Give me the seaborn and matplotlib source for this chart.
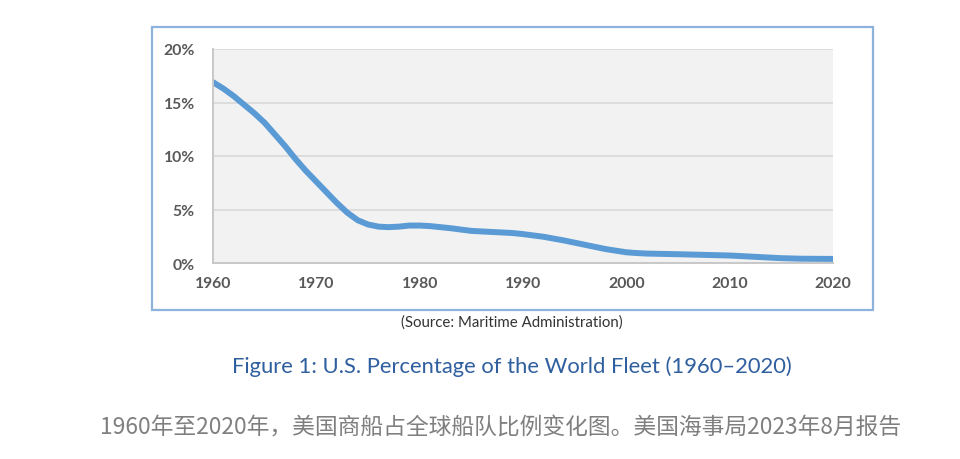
import matplotlib
matplotlib.use("Agg")
import matplotlib.pyplot as plt
import matplotlib.patches as mpatches
import seaborn as sns
import pandas as pd

years = [1960, 1961, 1962, 1963, 1964, 1965, 1966, 1967, 1968, 1969, 1970,
         1971, 1972, 1973, 1974, 1975, 1976, 1977, 1978, 1979, 1980, 1981,
         1983, 1985, 1987, 1989, 1990, 1992, 1994, 1996, 1998, 1999, 2000,
         2001, 2002, 2005, 2010, 2013, 2015, 2017, 2020]
share = [16.9, 16.3, 15.6, 14.8, 14.0, 13.1, 12.0, 10.9, 9.7, 8.6, 7.6,
         6.6, 5.6, 4.7, 4.0, 3.6, 3.4, 3.35, 3.4, 3.5, 3.5, 3.45,
         3.25, 3.0, 2.9, 2.8, 2.7, 2.45, 2.1, 1.7, 1.3, 1.15, 1.0,
         0.93, 0.88, 0.82, 0.7, 0.55, 0.45, 0.4, 0.38]
x_ticks = [1960, 1970, 1980, 1990, 2000, 2010, 2020]
y_ticks = [0, 5, 10, 15, 20]
y_labels = ["0%", "5%", "10%", "15%", "20%"]

source_text = "(Source: Maritime Administration)"
title_text = "Figure 1: U.S. Percentage of the World Fleet (1960\u20132020)"
caption_text = "1960年至2020年，美国商船占全球船队比例变化图。美国海事局2023年8月报告"

sns.set_theme(style="white")
plt.rcParams['font.family'] = ['Lato', 'Noto Sans CJK SC', 'DejaVu Sans']

df = pd.DataFrame({"year": years, "share": share})

fig = plt.figure(figsize=(9.6, 4.6), dpi=100)
fig.patch.set_facecolor("white")

# outer frame
frame = mpatches.Rectangle((152 / 960, 1 - 311 / 460), (873 - 152) / 960, (311 - 28) / 460,
                           transform=fig.transFigure, fill=False,
                           edgecolor="#8db3dc", linewidth=1.6)
fig.patches.append(frame)

ax = fig.add_axes([213 / 960, 1 - 264 / 460, 620 / 960, 214 / 460])
ax.set_facecolor("#f2f2f2")
sns.lineplot(data=df, x="year", y="share", ax=ax, color="#5b9bd5",
             linewidth=4.3, solid_joinstyle="round", solid_capstyle="round")

ax.set_xlim(1960, 2020)
ax.set_ylim(0, 20)
ax.set_xticks(x_ticks)
ax.set_xticklabels([str(t) for t in x_ticks])
ax.set_yticks(y_ticks)
ax.set_yticklabels(y_labels)
ax.set_xlabel("")
ax.set_ylabel("")
ax.grid(axis="y", color="#d9d9d9", linewidth=1.2)
ax.set_axisbelow(True)
for s in ["top", "right"]:
    ax.spines[s].set_visible(False)
for s in ["left", "bottom"]:
    ax.spines[s].set_color("#c8c8c8")
    ax.spines[s].set_linewidth(1.4)
ax.tick_params(axis="both", length=0, labelsize=11.3, labelcolor="#595959")
ax.tick_params(axis="x", pad=9)
ax.tick_params(axis="y", pad=13)
for lab in ax.get_xticklabels() + ax.get_yticklabels():
    lab.set_fontweight("bold")

fig.text(512 / 960, 1 - 323 / 460, source_text, ha="center", va="center",
         fontsize=10.8, color="#333333")
fig.text(512 / 960, 1 - 367 / 460, title_text, ha="center", va="center",
         fontsize=15.8, color="#2f5f9f")
fig.text(501 / 960, 1 - 428 / 460, caption_text, ha="center", va="center",
         fontsize=16.4, color="#7f7f7f",
         family=['Noto Sans CJK SC', 'DejaVu Sans'])

fig.savefig("out.png", dpi=100, facecolor="white")
